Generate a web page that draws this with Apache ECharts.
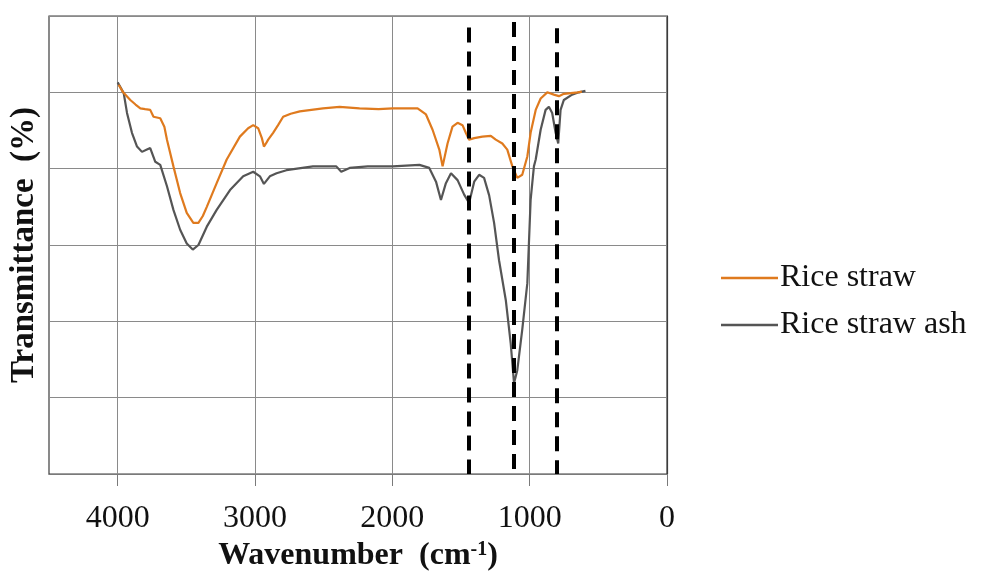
<!DOCTYPE html>
<html>
<head>
<meta charset="utf-8">
<script src="https://cdn.jsdelivr.net/npm/echarts@6/dist/echarts.min.js"></script>
<style>html,body{margin:0;padding:0;background:#fff;}#c{width:981px;height:579px;}</style>
</head>
<body>
<div id="c"></div>
<script>
// Rice straw (orange)
var strawWave = [3993,3960,3908,3870,3835,3800,3763,3739,3690,3660,3641,3594,3545,3497,3449,3412,3380,3351,3279,3206,3110,3050,3013,2977,2950,2935,2920,2904,2868,2832,2795,2740,2674,2505,2384,2239,2100,1997,1816,1755,1707,1658,1634,1598,1562,1525,1489,1465,1441,1404,1344,1283,1247,1199,1163,1126,1090,1054,1017,993,956,920,872,824,787,751,700,650,620];
var strawT = [5.10,5.00,4.90,4.84,4.79,4.78,4.77,4.68,4.66,4.55,4.38,4.03,3.68,3.42,3.29,3.29,3.38,3.50,3.81,4.12,4.42,4.53,4.57,4.53,4.40,4.29,4.33,4.38,4.47,4.57,4.68,4.72,4.75,4.79,4.81,4.79,4.78,4.79,4.79,4.71,4.51,4.25,4.03,4.33,4.55,4.60,4.57,4.47,4.38,4.40,4.42,4.43,4.38,4.33,4.25,4.03,3.88,3.92,4.16,4.47,4.77,4.92,5.00,4.97,4.95,4.98,4.99,5.00,5.01];
// Rice straw ash (grey)
var ashWave = [4000,3956,3932,3896,3859,3823,3787,3763,3726,3690,3641,3594,3545,3497,3453,3412,3351,3279,3182,3086,3013,2964,2935,2892,2843,2771,2578,2408,2372,2311,2179,1997,1803,1731,1682,1646,1610,1573,1525,1477,1441,1404,1368,1332,1295,1259,1223,1174,1138,1114,1090,1054,1017,993,969,956,920,884,860,836,811,792,775,751,691,642,594];
var ashT = [5.13,4.99,4.73,4.47,4.29,4.22,4.25,4.27,4.09,4.05,3.77,3.46,3.20,3.02,2.94,3.00,3.24,3.46,3.72,3.90,3.96,3.90,3.80,3.90,3.94,3.98,4.03,4.03,3.96,4.01,4.03,4.03,4.05,4.01,3.83,3.59,3.81,3.94,3.85,3.66,3.55,3.83,3.92,3.88,3.65,3.29,2.80,2.28,1.71,1.19,1.36,1.89,2.50,3.59,4.03,4.12,4.51,4.77,4.81,4.73,4.47,4.33,4.77,4.90,4.97,5.00,5.02];
// dashed marker lines (wavenumber, top value)
var markWave = [1440, 1118, 800];
var markTop = [5.85, 5.92, 5.84];
var xTicks = [0, 1000, 2000, 3000, 4000];
var seriesNames = ['Rice straw', 'Rice straw ash'];

function pairs(xs, ys) { return xs.map(function (x, i) { return [x, ys[i]]; }); }

var serif = 'Liberation Serif';
var chart = echarts.init(document.getElementById('c'), null, { renderer: 'canvas' });
chart.setOption({
  animation: false,
  backgroundColor: '#ffffff',
  grid: { left: 46, right: 314, top: 16, bottom: 105, show: true, borderColor: '#3c3c3c', borderWidth: 1.2, backgroundColor: 'transparent' },
  legend: {
    orient: 'vertical', left: 716, top: 257, itemWidth: 57, itemHeight: 2.5, itemGap: 15,
    icon: 'rect',
    data: seriesNames,
    textStyle: { fontFamily: serif, fontSize: 32, lineHeight: 32, color: '#111', padding: [0, 0, 0, -3] }
  },
  xAxis: {
    type: 'value', inverse: true, min: 0, max: 4500, interval: 1000,
    axisLine: { show: true, lineStyle: { color: '#7a7a7a', width: 1.2 } },
    axisTick: { show: true, length: 12, inside: false, customValues: xTicks, lineStyle: { color: '#7a7a7a' } },
    axisLabel: { customValues: xTicks, margin: 29, fontFamily: serif, fontSize: 32, color: '#111',
      formatter: function (v) { return String(v); } },
    splitLine: { show: true, lineStyle: { color: '#8a8a8a', width: 1 } },
    name: '{a|Wavenumber  (cm}{s|-1}{a|)}', nameLocation: 'middle', nameGap: 64,
    nameTextStyle: { rich: {
      a: { fontFamily: serif, fontWeight: 'bold', fontSize: 32, color: '#111' },
      s: { fontFamily: serif, fontWeight: 'bold', fontSize: 20, color: '#111', verticalAlign: 'top', padding: [0, 0, 12, 0] }
    } }
  },
  yAxis: {
    type: 'value', min: 0, max: 6, interval: 1,
    axisLine: { show: true, lineStyle: { color: '#3c3c3c', width: 1.2 } },
    axisTick: { show: false }, axisLabel: { show: false },
    splitLine: { show: true, lineStyle: { color: '#8a8a8a', width: 1 } },
    name: 'Transmittance  (%)', nameLocation: 'middle', nameGap: 8,
    nameTextStyle: { fontFamily: serif, fontWeight: 'bold', fontSize: 33, color: '#111' }
  },
  series: [
    {
      name: seriesNames[0], type: 'line', data: pairs(strawWave, strawT), symbol: 'none',
      lineStyle: { color: '#DF7A1E', width: 2.2 }, itemStyle: { color: '#DF7A1E' }, z: 3
    },
    {
      name: seriesNames[1], type: 'line', data: pairs(ashWave, ashT), symbol: 'none',
      lineStyle: { color: '#555555', width: 2.2 }, itemStyle: { color: '#555555' }, z: 2,
      markLine: {
        silent: true, symbol: 'none', label: { show: false },
        lineStyle: { color: '#000', width: 4, type: [15, 9] },
        data: markWave.map(function (w, i) { return [{ coord: [w, markTop[i]] }, { coord: [w, 0] }]; })
      }
    }
  ]
});
</script>
</body>
</html>
